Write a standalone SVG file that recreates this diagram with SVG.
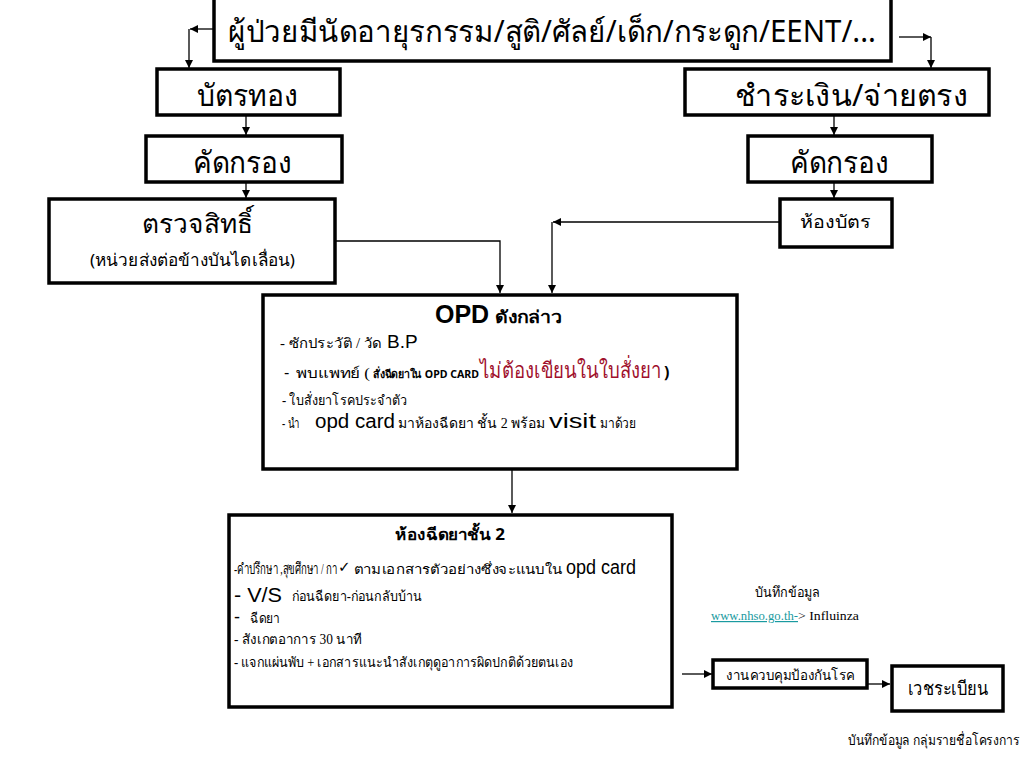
<svg xmlns="http://www.w3.org/2000/svg" width="1024" height="768" viewBox="0 0 1024 768">
<defs>
<marker id="arr" viewBox="0 0 10 10" refX="10" refY="5" markerWidth="8" markerHeight="8" markerUnits="userSpaceOnUse" orient="auto">
<path d="M0,0 L10,5 L0,10 Z" fill="#000"/>
</marker>
<style>
.box{fill:#fff;stroke:#000;stroke-width:3.5}
.con{fill:none;stroke:#000;stroke-width:1.3}
.sans{font-family:"Noto Sans","DejaVu Sans",sans-serif;fill:#000}
.serif{font-family:"Liberation Serif","DejaVu Serif",serif;fill:#000}
.arial{font-family:"Liberation Sans",Arial,sans-serif;fill:#000}
.red{font-family:"Liberation Serif","DejaVu Serif",serif;fill:#a0102c}
.link{font-family:"Liberation Serif","DejaVu Serif",serif;fill:#1a9aa0;text-decoration:underline}
</style>
</defs>
<rect width="1024" height="768" fill="#fff"/>

<g id="connectors">
<line class="con" x1="214" y1="29" x2="190" y2="29" marker-end="url(#arr)"/>
<line class="con" x1="189" y1="29" x2="189" y2="68" marker-end="url(#arr)"/>
<line class="con" x1="899" y1="37" x2="931" y2="37" marker-end="url(#arr)"/>
<line class="con" x1="931" y1="37" x2="931" y2="68" marker-end="url(#arr)"/>
<line class="con" x1="246" y1="116" x2="246" y2="135" marker-end="url(#arr)"/>
<line class="con" x1="834" y1="116" x2="834" y2="135" marker-end="url(#arr)"/>
<line class="con" x1="246" y1="183" x2="246" y2="198" marker-end="url(#arr)"/>
<line class="con" x1="834" y1="183" x2="834" y2="198" marker-end="url(#arr)"/>
<polyline class="con" points="335,241 500,241 500,293" marker-end="url(#arr)"/>
<line class="con" x1="780" y1="222" x2="553" y2="222" marker-end="url(#arr)"/>
<line class="con" x1="552" y1="222" x2="552" y2="293" marker-end="url(#arr)"/>
<line class="con" x1="512" y1="465" x2="512" y2="513" marker-end="url(#arr)"/>
<line class="con" x1="682" y1="674" x2="712" y2="674" marker-end="url(#arr)"/>
<line class="con" x1="867" y1="684" x2="890" y2="684" marker-end="url(#arr)"/>
</g>

<g id="top">
<rect class="box" x="214" y="-2" width="677" height="63"/>
<text class="sans" x="228" y="42" font-size="30" textLength="648" lengthAdjust="spacingAndGlyphs">ผู้ป่วยมีนัดอายุรกรรม/สูติ/ศัลย์/เด็ก/กระดูก/EENT/...</text>
</g>

<g id="gold-card">
<rect class="box" x="157" y="69" width="183" height="46"/>
<text class="sans" x="197" y="106" font-size="30" textLength="101" lengthAdjust="spacingAndGlyphs">บัตรทอง</text>
</g>

<g id="pay">
<rect class="box" x="685" y="69" width="304" height="46"/>
<text class="sans" x="735" y="106" font-size="30" textLength="233" lengthAdjust="spacingAndGlyphs">ชำระเงิน/จ่ายตรง</text>
</g>

<g id="screen-left">
<rect class="box" x="146" y="136" width="196" height="46"/>
<text class="sans" x="193" y="173" font-size="30" textLength="99" lengthAdjust="spacingAndGlyphs">คัดกรอง</text>
</g>

<g id="screen-right">
<rect class="box" x="748" y="136" width="184" height="46"/>
<text class="sans" x="790" y="173" font-size="30" textLength="99" lengthAdjust="spacingAndGlyphs">คัดกรอง</text>
</g>

<g id="check-rights">
<rect class="box" x="49" y="199" width="286" height="84"/>
<text class="sans" x="142" y="233" font-size="26" textLength="111" lengthAdjust="spacingAndGlyphs">ตรวจสิทธิ์</text>
<text class="sans" x="90" y="266" font-size="17" textLength="205" lengthAdjust="spacingAndGlyphs">(หน่วยส่งต่อข้างบันไดเลื่อน)</text>
</g>

<g id="card-room">
<rect class="box" x="780" y="199" width="112" height="48"/>
<text class="sans" x="800" y="228" font-size="18" textLength="71" lengthAdjust="spacingAndGlyphs">ห้องบัตร</text>
</g>

<g id="opd">
<rect class="box" x="263" y="295" width="474" height="174"/>
<text class="arial" x="435" y="323" font-size="25" font-weight="bold">OPD</text>
<text class="sans" x="495" y="323" font-size="17" font-weight="bold" textLength="68" lengthAdjust="spacingAndGlyphs">ดังกล่าว</text>
<text class="serif" x="280" y="348" font-size="14" textLength="102" lengthAdjust="spacingAndGlyphs">- ซักประวัติ / วัด</text>
<text class="arial" x="387" y="348" font-size="19">B.P</text>
<text class="arial" x="284" y="378" font-size="16">-</text>
<text class="serif" x="296" y="378" font-size="14" textLength="74" lengthAdjust="spacingAndGlyphs">พบแพทย์ (</text>
<text class="sans" x="373" y="378" font-size="11" font-weight="bold" textLength="106" lengthAdjust="spacingAndGlyphs">สั่งฉีดยาใน OPD CARD</text>
<text class="red" x="480" y="378" font-size="22" textLength="181" lengthAdjust="spacingAndGlyphs">ไม่ต้องเขียนในใบสั่งยา</text>
<text class="sans" x="664" y="378" font-size="16" font-weight="bold">)</text>
<text class="serif" x="282" y="405" font-size="14" textLength="125" lengthAdjust="spacingAndGlyphs">- ใบสั่งยาโรคประจำตัว</text>
<text class="serif" x="282" y="428" font-size="14" textLength="18" lengthAdjust="spacingAndGlyphs">- นำ</text>
<text class="arial" x="315" y="428" font-size="20" textLength="80" lengthAdjust="spacingAndGlyphs">opd card</text>
<text class="serif" x="398" y="428" font-size="14" textLength="147" lengthAdjust="spacingAndGlyphs">มาห้องฉีดยา ชั้น 2 พร้อม</text>
<text class="arial" x="549" y="428" font-size="20" textLength="47" lengthAdjust="spacingAndGlyphs">visit</text>
<text class="serif" x="600" y="428" font-size="14" textLength="36" lengthAdjust="spacingAndGlyphs">มาด้วย</text>
</g>

<g id="injection">
<rect class="box" x="229" y="515" width="443" height="192"/>
<text class="sans" x="395" y="540" font-size="16" font-weight="bold" textLength="110" lengthAdjust="spacingAndGlyphs">ห้องฉีดยาชั้น 2</text>
<text class="serif" x="234" y="574" font-size="15" textLength="103" lengthAdjust="spacingAndGlyphs">-คำปรึกษา ,สุขศึกษา /  กา</text>
<text class="sans" x="338" y="572" font-size="15" font-weight="bold">✓</text>
<text class="serif" x="354" y="574" font-size="13" textLength="208" lengthAdjust="spacingAndGlyphs">ตามเอกสารตัวอย่างซึ่งจะแนบใน</text>
<text class="arial" x="566" y="574" font-size="20" textLength="70" lengthAdjust="spacingAndGlyphs">opd card</text>
<text class="arial" x="234" y="602" font-size="20" textLength="48" lengthAdjust="spacingAndGlyphs">- V/S</text>
<text class="serif" x="292" y="601" font-size="14" textLength="130" lengthAdjust="spacingAndGlyphs">ก่อนฉีดยา-ก่อนกลับบ้าน</text>
<text class="arial" x="234" y="623" font-size="18">-</text>
<text class="serif" x="250" y="623" font-size="14" textLength="30" lengthAdjust="spacingAndGlyphs">ฉีดยา</text>
<text class="serif" x="234" y="644" font-size="14" textLength="128" lengthAdjust="spacingAndGlyphs">- สังเกตอาการ 30 นาที</text>
<text class="serif" x="234" y="667" font-size="14" textLength="339" lengthAdjust="spacingAndGlyphs">- แจกแผ่นพับ + เอกสารแนะนำสังเกตุดูอาการผิดปกติด้วยตนเอง</text>
</g>

<g id="record-note">
<text class="serif" x="755" y="597" font-size="14" textLength="65" lengthAdjust="spacingAndGlyphs">บันทึกข้อมูล</text>
<text class="link" x="711" y="620" font-size="12" textLength="87" lengthAdjust="spacingAndGlyphs">www.nhso.go.th-</text>
<text class="serif" x="798" y="620" font-size="12" textLength="61" lengthAdjust="spacingAndGlyphs">&gt; Influinza</text>
</g>

<g id="disease-control">
<rect class="box" x="713" y="660" width="154" height="28"/>
<text class="sans" x="726" y="680" font-size="14" textLength="129" lengthAdjust="spacingAndGlyphs">งานควบคุมป้องกันโรค</text>
</g>

<g id="medical-records">
<rect class="box" x="892" y="666" width="111" height="45"/>
<text class="sans" x="908" y="695" font-size="19" textLength="80" lengthAdjust="spacingAndGlyphs">เวชระเบียน</text>
</g>

<text class="serif" x="848" y="745" font-size="14" textLength="172" lengthAdjust="spacingAndGlyphs">บันทึกข้อมูล กลุ่มรายชื่อโครงการ</text>
</svg>
